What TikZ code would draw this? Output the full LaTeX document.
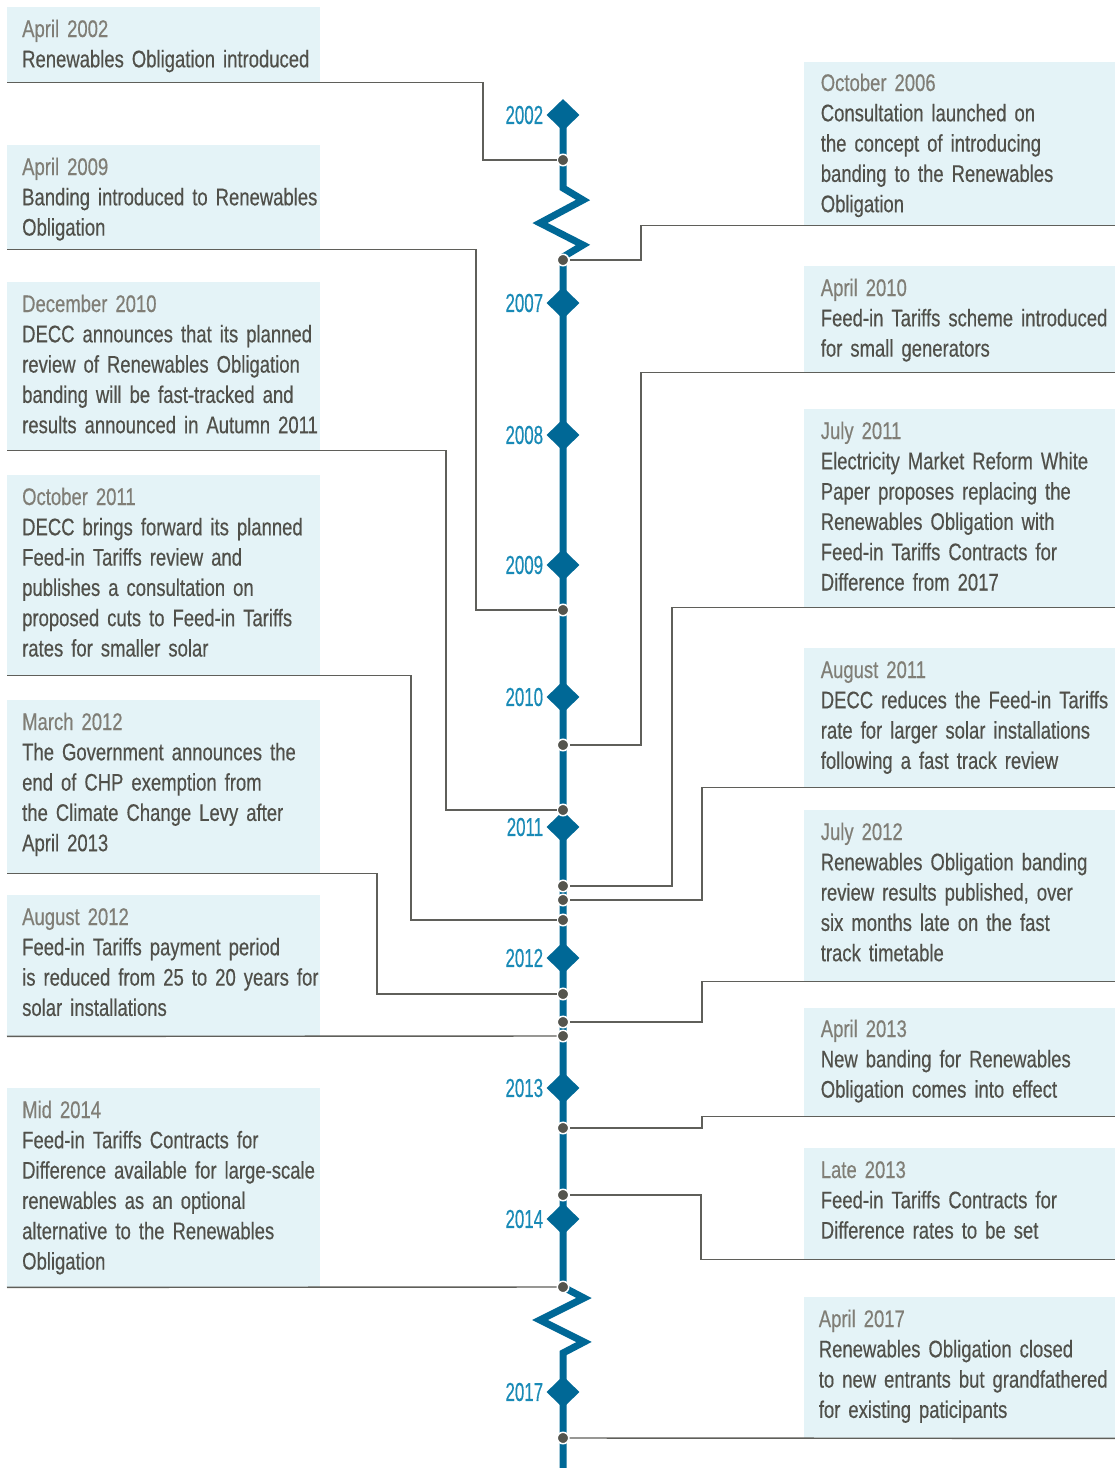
\documentclass[tikz,border=0pt]{standalone}
\usepackage{fontspec}
\setmainfont{Liberation Sans}[FakeStretch=0.77,WordSpace=0.75,FakeBold=0.4]
\newfontfamily\yearfont{Liberation Sans}[FakeStretch=0.65,FakeBold=0.4]
\usetikzlibrary{shapes.geometric,positioning}
\definecolor{spineblue}{RGB}{0,104,150}
\definecolor{yearblue}{RGB}{25,138,182}
\definecolor{boxfill}{RGB}{228,243,247}
\definecolor{linegray}{RGB}{95,95,90}
\definecolor{dotgray}{RGB}{85,85,78}
\definecolor{dategray}{RGB}{128,126,118}
\definecolor{textgray}{RGB}{80,80,74}
\newcommand{\evdate}[1]{{\color{dategray}#1}\\}

\begin{document}
\begin{tikzpicture}[x=1pt,y=-1pt,
  every node/.style={font=\fontsize{24}{30.3}\selectfont},
  yearmark/.style={diamond,fill=spineblue,inner sep=0pt,minimum width=33pt,minimum height=32pt},
  yeartext/.style={font=\yearfont\fontsize{26}{28}\selectfont,text=yearblue,inner sep=0pt},
  leftbox/.style={fill=boxfill,anchor=north west,minimum width=313pt,inner sep=0pt},
  rightbox/.style={fill=boxfill,anchor=north east,minimum width=311pt,inner sep=0pt},
  evtext/.style={anchor=base west,inner sep=0pt,text width=305pt,align=left,text=textgray},
  conn/.style={draw=linegray,line width=1.4pt},
  evdot/.style={circle,fill=dotgray,draw=white,line width=1.5pt,minimum size=11.5pt,inner sep=0pt}]
  \useasboundingbox (0,0) rectangle (1115,1468);

  % timeline
  \coordinate (top) at (563,115);
  \draw[spineblue,line width=7pt]
    (top) -- (563,188) -- (583,200) -- (540,223) -- (583,245) -- (563,257)
    -- (563,1287) -- (584,1298) -- (540,1320) -- (584,1342) -- (563,1353)
    -- (563,1468);
  \node[yearmark] (y2002) at (563,115) {};
  \node[yearmark] (y2007) at (563,303) {};
  \node[yearmark] (y2008) at (563,435) {};
  \node[yearmark] (y2009) at (563,565) {};
  \node[yearmark] (y2010) at (563,697) {};
  \node[yearmark] (y2011) at (563,827) {};
  \node[yearmark] (y2012) at (563,958) {};
  \node[yearmark] (y2013) at (563,1088) {};
  \node[yearmark] (y2014) at (563,1219) {};
  \node[yearmark] (y2017) at (563,1392) {};
  \node[yeartext,left=3pt of y2002] (t2002) {2002};
  \node[yeartext,left=3pt of y2007] (t2007) {2007};
  \node[yeartext,left=3pt of y2008] (t2008) {2008};
  \node[yeartext,left=3pt of y2009] (t2009) {2009};
  \node[yeartext,left=3pt of y2010] (t2010) {2010};
  \node[yeartext,left=3pt of y2011] (t2011) {2011};
  \node[yeartext,left=3pt of y2012] (t2012) {2012};
  \node[yeartext,left=3pt of y2013] (t2013) {2013};
  \node[yeartext,left=3pt of y2014] (t2014) {2014};
  \node[yeartext,left=3pt of y2017] (t2017) {2017};

  % left events
  \node[leftbox,minimum height=75pt] (L1) at (7,7) {};
  \node[leftbox,minimum height=104pt] (L2) at (7,145) {};
  \node[leftbox,minimum height=168pt] (L3) at (7,282) {};
  \node[leftbox,minimum height=200pt] (L4) at (7,475) {};
  \node[leftbox,minimum height=173pt] (L5) at (7,700) {};
  \node[leftbox,minimum height=141pt] (L6) at (7,895) {};
  \node[leftbox,minimum height=199pt] (L7) at (7,1088) {};
  \node[evtext] (L1t) at ([shift={(15,30)}]L1.north west)
    {\evdate{April 2002}Renewables Obligation introduced};
  \node[evtext] (L2t) at ([shift={(15,30)}]L2.north west)
    {\evdate{April 2009}Banding introduced to Renewables\\ Obligation};
  \node[evtext] (L3t) at ([shift={(15,30)}]L3.north west)
    {\evdate{December 2010}DECC announces that its planned\\ review of Renewables Obligation\\
     banding will be fast-tracked and\\ results announced in Autumn 2011};
  \node[evtext] (L4t) at ([shift={(15,30)}]L4.north west)
    {\evdate{October 2011}DECC brings forward its planned\\ Feed-in Tariffs review and\\
     publishes a consultation on\\ proposed cuts to Feed-in Tariffs\\ rates for smaller solar};
  \node[evtext] (L5t) at ([shift={(15,30)}]L5.north west)
    {\evdate{March 2012}The Government announces the\\ end of CHP exemption from\\
     the Climate Change Levy after\\ April 2013};
  \node[evtext] (L6t) at ([shift={(15,30)}]L6.north west)
    {\evdate{August 2012}Feed-in Tariffs payment period\\ is reduced from 25 to 20 years for\\
     solar installations};
  \node[evtext] (L7t) at ([shift={(15,30)}]L7.north west)
    {\evdate{Mid 2014}Feed-in Tariffs Contracts for\\ Difference available for large-scale\\
     renewables as an optional\\ alternative to the Renewables\\ Obligation};

  % right events
  \node[rightbox,minimum height=163pt] (R1) at (1115,62) {};
  \node[rightbox,minimum height=106pt] (R2) at (1115,266) {};
  \node[rightbox,minimum height=198pt] (R3) at (1115,409) {};
  \node[rightbox,minimum height=139pt] (R4) at (1115,648) {};
  \node[rightbox,minimum height=171pt] (R5) at (1115,810) {};
  \node[rightbox,minimum height=108pt] (R6) at (1115,1008) {};
  \node[rightbox,minimum height=111pt] (R7) at (1115,1148) {};
  \node[rightbox,minimum height=141pt] (R8) at (1115,1297) {};
  \node[evtext] (R1t) at ([shift={(17,29)}]R1.north west)
    {\evdate{October 2006}Consultation launched on\\ the concept of introducing\\
     banding to the Renewables\\ Obligation};
  \node[evtext] (R2t) at ([shift={(17,30)}]R2.north west)
    {\evdate{April 2010}Feed-in Tariffs scheme introduced\\ for small generators};
  \node[evtext] (R3t) at ([shift={(17,30)}]R3.north west)
    {\evdate{July 2011}Electricity Market Reform White\\ Paper proposes replacing the\\
     Renewables Obligation with\\ Feed-in Tariffs Contracts for\\ Difference from 2017};
  \node[evtext] (R4t) at ([shift={(17,30)}]R4.north west)
    {\evdate{August 2011}DECC reduces the Feed-in Tariffs\\ rate for larger solar installations\\
     following a fast track review};
  \node[evtext] (R5t) at ([shift={(17,30)}]R5.north west)
    {\evdate{July 2012}Renewables Obligation banding\\ review results published, over\\
     six months late on the fast\\ track timetable};
  \node[evtext] (R6t) at ([shift={(17,29)}]R6.north west)
    {\evdate{April 2013}New banding for Renewables\\ Obligation comes into effect};
  \node[evtext] (R7t) at ([shift={(17,30)}]R7.north west)
    {\evdate{Late 2013}Feed-in Tariffs Contracts for\\ Difference rates to be set};
  \node[evtext] (R8t) at ([shift={(15,30)}]R8.north west)
    {\evdate{April 2017}Renewables Obligation closed\\ to new entrants but grandfathered\\
     for existing paticipants};

  % points on the timeline
  \node[evdot] (p1) at (563,160) {};
  \node[evdot] (p2) at (563,260) {};
  \node[evdot] (p3) at (563,610) {};
  \node[evdot] (p4) at (563,745) {};
  \node[evdot] (p5) at (563,810) {};
  \node[evdot] (p6) at (563,886) {};
  \node[evdot] (p7) at (563,900) {};
  \node[evdot] (p8) at (563,920) {};
  \node[evdot] (p9) at (563,994) {};
  \node[evdot] (p10) at (563,1022) {};
  \node[evdot] (p11) at (563,1036) {};
  \node[evdot] (p12) at (563,1128) {};
  \node[evdot] (p13) at (563,1195) {};
  \node[evdot] (p14) at (563,1287) {};
  \node[evdot] (p15) at (563,1438) {};

  \draw[conn] (L1.south west) -- ++(476,0) |- (p1);
  \draw[conn] (L2.south west) -- ++(469,0) |- (p3);
  \draw[conn] (L3.south west) -- ++(439,0) |- (p5);
  \draw[conn] (L4.south west) -- ++(404,0) |- (p8);
  \draw[conn] (L5.south west) -- ++(370,0) |- (p9);
  \draw[conn] (L6.south west) -- (p11);
  \draw[conn] (L7.south west) -- (p14);
  \draw[conn] (R1.south east) -- ++(-474,0) |- (p2);
  \draw[conn] (R2.south east) -- ++(-474,0) |- (p4);
  \draw[conn] (R3.south east) -- ++(-443,0) |- (p6);
  \draw[conn] (R4.south east) -- ++(-413,0) |- (p7);
  \draw[conn] (R5.south east) -- ++(-413,0) |- (p10);
  \draw[conn] (R6.south east) -- ++(-413,0) |- (p12);
  \draw[conn] (R7.south east) -- ++(-414,0) |- (p13);
  \draw[conn] (R8.south east) -- (p15);
\end{tikzpicture}
\end{document}
